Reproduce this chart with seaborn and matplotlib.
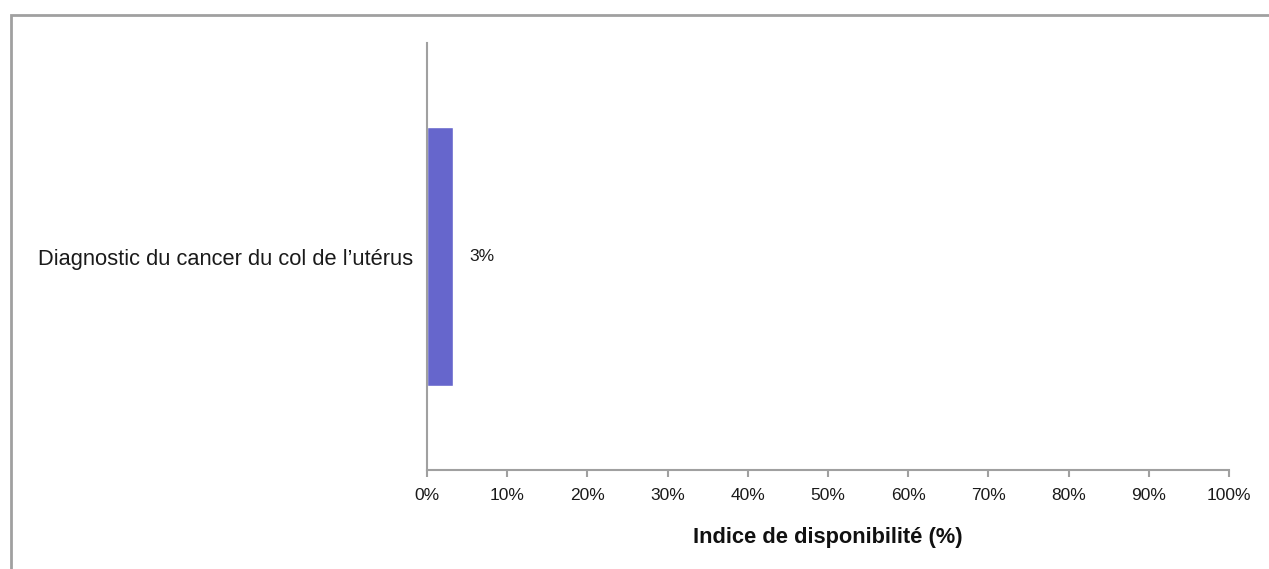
import matplotlib
matplotlib.use("Agg")
import matplotlib.pyplot as plt
import seaborn as sns
import pandas as pd
from matplotlib.patches import Rectangle
from matplotlib.ticker import PercentFormatter

categories = ["Diagnostic du cancer du col de l\u2019utérus"]
values = [3.2]
value_labels = ["3%"]
xticks = list(range(0, 101, 10))

df = pd.DataFrame({"categorie": categories, "valeur": values})

sns.set_style("white")
plt.rcParams["font.family"] = ["Liberation Sans", "DejaVu Sans"]

fig = plt.figure(figsize=(12.69, 5.69), dpi=100)
ax = fig.add_axes([427 / 1269, 1 - 470 / 569, (1229 - 427) / 1269, (470 - 43) / 569])

sns.barplot(data=df, x="valeur", y="categorie", color="#6666cc",
            saturation=1, width=0.605, ax=ax, orient="h")

for p, lab in zip(ax.patches, value_labels):
    ax.text(p.get_width() + 2.1, p.get_y() + p.get_height() / 2, lab,
            va="center", ha="left", fontsize=12.5, color="#1a1a1a")

ax.set_xlim(0, 100)
ax.set_ylim(0.5, -0.5)
ax.set_xticks(xticks)
ax.xaxis.set_major_formatter(PercentFormatter(decimals=0))
ax.tick_params(axis="x", length=5, width=1.5, color="#a0a0a0", labelsize=12.5,
               labelcolor="#1a1a1a", pad=8, bottom=True)
ax.tick_params(axis="y", length=0, pad=10, labelsize=15.75, labelcolor="#1a1a1a")
ax.set_ylabel("")
ax.set_xlabel("Indice de disponibilité (%)", fontsize=15.75, fontweight="bold",
              color="#111111", labelpad=17)

for side in ["top", "right"]:
    ax.spines[side].set_visible(False)
for side in ["left", "bottom"]:
    ax.spines[side].set_color("#a0a0a0")
    ax.spines[side].set_linewidth(1.5)

# chart frame (only top and left edges are in view)
fig.patches.append(Rectangle((11 / 1269, -0.1), 1.2, 1.1 - 15 / 569,
                             transform=fig.transFigure, fill=False,
                             edgecolor="#a0a0a0", linewidth=2))

fig.savefig("out.png", dpi=100)
